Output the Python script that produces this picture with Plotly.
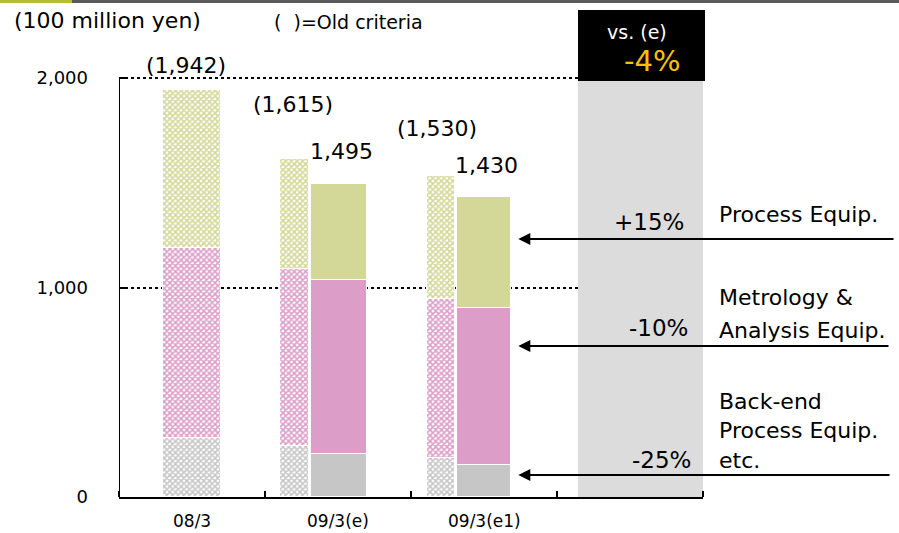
import plotly.graph_objects as go

# ---- data (100 million yen) ----
categories = ["08/3", "09/3(e)", "09/3(e1)"]

# old criteria, stacked bottom -> top
old_backend = [282, 243, 186]
old_metrology = [907, 845, 759]
old_process = [753, 527, 585]
old_totals = ["(1,942)", "(1,615)", "(1,530)"]

# new criteria (only for the two forecasts)
new_categories = ["09/3(e)", "09/3(e1)"]
new_backend = [205, 155]
new_metrology = [831, 745]
new_process = [459, 530]
new_totals = ["1,495", "1,430"]

segment_change = ["+15%", "-10%", "-25%"]
total_change = "-4%"

y_ticks = [0, 1000, 2000]
y_ticktext = ["0", "1,000", "2,000"]

# ---- styling ----
FONT = "DejaVu Sans"
C_PROC = "#D3D898"
C_METR = "#DC9DC8"
C_BACK = "#C6C6C6"
C_PANEL = "#DCDCDC"

W, H = 899, 533
ML, MR, MT, MB = 119, 196, 0, 36
PW, PH = W - ML - MR, H - MT - MB
Y_TOP = 2000 * PH / 419.0          # 2,000 sits 419 px above the baseline


def px(x):
    return (x - ML) / PW


def py(y):
    return (H - MB - y) / PH


def note(x, y, text, size, color="black", xanchor="center", yanchor="middle"):
    fig.add_annotation(xref="paper", yref="paper", x=px(x), y=py(y), text=text,
                       xanchor=xanchor, yanchor=yanchor, showarrow=False,
                       font=dict(family=FONT, size=size, color=color))


cat_index = {c: i for i, c in enumerate(categories)}
old_x = [0.0, 0.702, 1.705]
old_w = [0.397, 0.199, 0.192]
new_x = [1.007, 2.0]
new_w = [0.384, 0.37]

fig = go.Figure()


def add_stack(xs, ws, back, metr, proc, hatched):
    base0 = [0] * len(back)
    base1 = back
    base2 = [b + m for b, m in zip(back, metr)]
    for vals, base, col in ((back, base0, C_BACK), (metr, base1, C_METR), (proc, base2, C_PROC)):
        marker = dict(color=col, line=dict(color="white", width=1))
        if hatched:
            marker = dict(color="white", line=dict(color="white", width=1),
                          pattern=dict(shape="x", fgcolor=col, bgcolor="white",
                                       size=4, solidity=0.62, fillmode="replace"))
        fig.add_trace(go.Bar(x=xs, y=vals, base=base, width=ws, marker=marker,
                             showlegend=False, hoverinfo="skip"))


add_stack(old_x, old_w, old_backend, old_metrology, old_process, True)
add_stack(new_x, new_w, new_backend, new_metrology, new_process, False)

# total labels
old_top = [b + m + p for b, m, p in zip(old_backend, old_metrology, old_process)]
old_shift = [25, 54, 48]
old_dx = [-6, -1, -4]
for i, (x, t, s, d) in enumerate(zip(old_x, old_totals, old_shift, old_dx)):
    fig.add_annotation(x=x, y=old_top[i], text=t, showarrow=False, yshift=s, xshift=d,
                       xanchor="center", yanchor="middle",
                       font=dict(family=FONT, size=22, color="black"))
new_top = [b + m + p for b, m, p in zip(new_backend, new_metrology, new_process)]
for x, y, t in zip(new_x, new_top, new_totals):
    fig.add_annotation(x=x, y=y, text=t, showarrow=False, yshift=32, xshift=2,
                       xanchor="center", yanchor="middle",
                       font=dict(family=FONT, size=22, color="black"))

# category labels under the axis
for c in categories:
    fig.add_annotation(x=cat_index[c], xref="x", yref="paper", y=py(521), text=c,
                       xanchor="center", yanchor="middle", showarrow=False,
                       font=dict(family=FONT, size=17, color="black"))

shapes = []
# light comparison panel
shapes.append(dict(type="rect", xref="x", yref="y", x0=2.644, x1=3.5, y0=0, y1=2000,
                   fillcolor=C_PANEL, line=dict(width=0), layer="between"))
# black heading box
shapes.append(dict(type="rect", xref="paper", yref="paper", x0=px(578), x1=px(705),
                   y0=py(81), y1=py(10), fillcolor="black", line=dict(width=0), layer="above"))
# y axis line (up to 2,000)
shapes.append(dict(type="line", xref="x", yref="y", x0=-0.5, x1=-0.5, y0=0, y1=2000,
                   line=dict(color="black", width=2), layer="above"))
# top strip
shapes.append(dict(type="rect", xref="paper", yref="paper", x0=px(0), x1=px(W),
                   y0=py(3), y1=py(0), fillcolor="#5A5A5A", line=dict(width=0), layer="above"))
shapes.append(dict(type="rect", xref="paper", yref="paper", x0=px(0), x1=px(72),
                   y0=py(3), y1=py(0), fillcolor="#B4BE30", line=dict(width=0), layer="above"))
fig.update_layout(shapes=shapes)

# panel heading
note(637, 32, "vs. (e)", 19, color="white")
note(652, 61, total_change, 29, color="#FFC000")

# header texts
note(12, 20, "(100 million yen)", 22, xanchor="left")
note(272, 22, "(  )=Old criteria", 19, xanchor="left")

# arrows into the e1 bar
arrow_y = [1231, 721, 105]
arrow_tail = [895, 890, 891]
tip_x = new_x[1] + new_w[1] / 2 + 0.05
tip_px = ML + (tip_x + 0.5) * PW / 4.0
for ay, tail in zip(arrow_y, arrow_tail):
    fig.add_annotation(x=tip_x, y=ay, ax=tail - tip_px, ay=0, text="",
                       showarrow=True, arrowhead=2, arrowsize=1.2, arrowwidth=2,
                       arrowcolor="black")

# segment names and changes
name_blocks = [
    (["Process Equip."], 215, 0),
    (["Metrology &", "Analysis Equip."], 298, 32),
    (["Back-end", "Process Equip.", "etc."], 401, 29.5),
]
for lines, y0, gap in name_blocks:
    for j, ln in enumerate(lines):
        note(717, y0 + j * gap, ln, 22, xanchor="left")
chg_pos = [(686, 222), (690, 328), (693, 460)]
for t, (xr, yc) in zip(segment_change, chg_pos):
    note(xr, yc, t, 23, xanchor="right")

fig.update_layout(
    width=W, height=H,
    margin=dict(l=ML, r=MR, t=MT, b=MB, pad=0, autoexpand=False),
    paper_bgcolor="white", plot_bgcolor="white",
    barmode="overlay", bargap=0,
    showlegend=False,
    xaxis=dict(range=[-0.5, 3.5], tickvals=[cat_index[c] for c in categories],
               showticklabels=False,
               ticks="", showline=True, linecolor="black", linewidth=2, showgrid=False,
               zeroline=False, automargin=False,
               minor=dict(ticks="inside", tick0=-0.5, dtick=1, ticklen=6,
                          tickcolor="black", tickwidth=1.5, showgrid=False)),
    yaxis=dict(range=[0, Y_TOP], tickvals=y_ticks, ticktext=y_ticktext,
               ticks="inside", ticklen=6, tickcolor="black", tickwidth=1.5,
               showline=False, zeroline=False, automargin=False,
               showgrid=True, gridcolor="black", gridwidth=1.5, griddash="3px,3px",
               ticklabelstandoff=30,
               tickfont=dict(family=FONT, size=18, color="black")),
)

fig.write_html("out.html")
